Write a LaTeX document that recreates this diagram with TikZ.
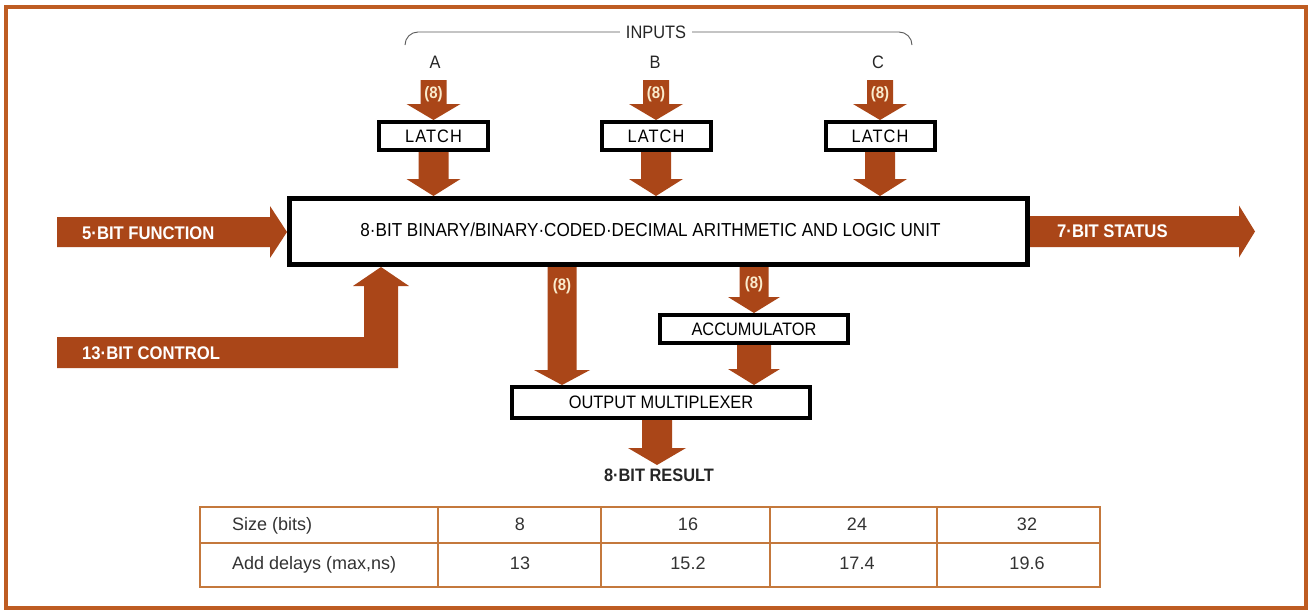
\documentclass[tikz,border=0pt]{standalone}
\usepackage{fontspec}
\setsansfont[FakeStretch=0.91]{Liberation Sans}
\newfontfamily\tabfont{Liberation Sans}
\usetikzlibrary{calc}
\definecolor{arrowc}{RGB}{170,70,24}
\definecolor{framec}{RGB}{190,92,34}
\definecolor{cream}{RGB}{250,236,205}
\definecolor{tabline}{RGB}{196,120,60}
\definecolor{bracec}{RGB}{90,90,90}

% vertical block arrow: from #1 down to the level of #2, half shaft #3, half head #4, head length #5
\newcommand\downarr[5]{\fill[arrowc] let \p1=(#1), \p2=(#2) in
  (\x1-#3,\y1) -- (\x1+#3,\y1) -- (\x1+#3,\y2+#5) -- (\x1+#4,\y2+#5) -- (\x1,\y2)
  -- (\x1-#4,\y2+#5) -- (\x1-#3,\y2+#5) -- cycle;}
% horizontal block arrow: from #1 right to the x of #2
\newcommand\rightarr[5]{\fill[arrowc] let \p1=(#1), \p2=(#2) in
  (\x1,\y1+#3) -- (\x2-#5,\y1+#3) -- (\x2-#5,\y1+#4) -- (\x2,\y1)
  -- (\x2-#5,\y1-#4) -- (\x2-#5,\y1-#3) -- (\x1,\y1-#3) -- cycle;}

\tikzset{
  box/.style={draw=black, fill=white, line width=4pt, inner sep=0pt,
    font=\sffamily\fontsize{18}{20}\selectfont},
  lbl/.style={font=\sffamily\fontsize{18}{20}\selectfont, text=black!85, inner sep=0pt},
  wlbl/.style={font=\sffamily\bfseries\fontsize{18.3}{20}\selectfont, text=white, inner sep=0pt, anchor=west},
  eight/.style={font=\sffamily\bfseries\fontsize{16.5}{18}\selectfont, text=cream, inner sep=0pt},
  tab/.style={font=\tabfont\fontsize{18}{20}\selectfont, text=black!80, inner sep=0pt},
}

\begin{document}
\begin{tikzpicture}[x=1pt,y=-1pt]
\useasboundingbox (0,0) rectangle (1310,611);
\fill[white] (0,0) rectangle (1310,611);
\draw[framec, line width=4.5pt] (6,7) rectangle (1306,608);

% inputs brace
\node[lbl] (inputs) at (656,32) {INPUTS};
\draw[bracec, line width=0.9pt] (405,45) to[out=90,in=180] (418,32) -- ([xshift=-6pt]inputs.west);
\draw[bracec, line width=0.9pt] ([xshift=6pt]inputs.east) -- (899,32) to[out=0,in=90] (912,45);
\node[lbl] (la) at (435,62) {A};
\node[lbl] (lb) at (655,62) {B};
\node[lbl] (lc) at (878,62) {C};

% boxes
\node[box, minimum width=109pt, minimum height=28pt] (latchA) at (433.5,136) {\addfontfeature{LetterSpace=6}LATCH};
\node[box, minimum width=109pt, minimum height=28pt] (latchB) at (656,136) {\addfontfeature{LetterSpace=6}LATCH};
\node[box, minimum width=109pt, minimum height=28pt] (latchC) at (880,136) {\addfontfeature{LetterSpace=6}LATCH};
\node[box, line width=5pt, minimum width=738pt, minimum height=66pt,
  font=\sffamily\fontsize{18.8}{20}\selectfont] (alu) at (658.5,231.5)
  {\raisebox{3pt}{8·BIT BINARY/BINARY·CODED·DECIMAL ARITHMETIC AND LOGIC UNIT}\hspace*{16pt}};
\node[box, minimum width=188pt, minimum height=28pt] (acc) at (754,329) {ACCUMULATOR};
\node[box, minimum width=298pt, minimum height=31pt] (mux) at (661,402.5) {OUTPUT MULTIPLEXER};

% input arrows
\coordinate (ina) at (latchA.north |- 0,80);
\coordinate (inb) at (latchB.north |- 0,80);
\coordinate (inc) at (latchC.north |- 0,80);
\downarr{ina}{latchA.north}{13pt}{27pt}{16pt}
\downarr{inb}{latchB.north}{13pt}{27pt}{16pt}
\downarr{inc}{latchC.north}{13pt}{27pt}{16pt}
\node[eight] (ea) at (latchA.north |- 0,94) {(8)};
\node[eight] (eb) at (latchB.north |- 0,94) {(8)};
\node[eight] (ec) at (latchC.north |- 0,94) {(8)};

% latch to ALU
\downarr{latchA.south}{alu.north}{15pt}{27pt}{17pt}
\downarr{latchB.south}{alu.north}{15pt}{27pt}{17pt}
\downarr{latchC.south}{alu.north}{15pt}{27pt}{17pt}

% function and status
\coordinate (fn) at (57,232);
\rightarr{fn}{alu.west}{15pt}{26pt}{17pt}
\node[wlbl] (fnl) at (82,233) {5·BIT FUNCTION};
\coordinate (st) at (1255,231.5);
\rightarr{alu.east |- st}{st}{15.5pt}{26pt}{16pt}
\node[wlbl] (stl) at (1057,231) {7·BIT STATUS};

% control L-shaped arrow
\coordinate (ctl) at (57,352.5);
\coordinate (ctlturn) at (381,352.5);
\fill[arrowc] let \p1=(ctl), \p2=(ctlturn), \p3=(ctlturn |- alu.south) in
  (\x1,\y1+15.5pt) -- (\x2-17pt,\y1+15.5pt) -- (\x2-17pt,\y3-19pt) -- (\x2-28pt,\y3-19pt)
  -- (\x2,\y3) -- (\x2+28pt,\y3-19pt) -- (\x2+17pt,\y3-19pt) -- (\x2+17pt,\y1-15.5pt)
  -- (\x1,\y1-15.5pt) -- cycle;
\node[wlbl] (ctll) at (82,353) {13·BIT CONTROL};

% ALU to mux and accumulator
\coordinate (o1) at (562,0);
\downarr{o1 |- alu.south}{mux.north}{14.5pt}{28pt}{15pt}
\node[eight] (e1) at (562,286) {(8)};
\downarr{acc.north |- alu.south}{acc.north}{14.5pt}{26pt}{16pt}
\node[eight] (e2) at (754,284) {(8)};
\downarr{acc.south}{mux.north}{17pt}{26pt}{16pt}

% result
\coordinate (res) at (657,465);
\downarr{mux.south -| res}{res}{15pt}{29pt}{17pt}
\node[lbl, font=\sffamily\bfseries\fontsize{18}{20}\selectfont] (resl) at (659,475.5) {8·BIT RESULT};

% table
\draw[tabline, line width=1.2pt] (200,543) -- (1100,543);
\foreach \xx in {438,601,770,937} \draw[tabline, line width=1.2pt] (\xx,507) -- (\xx,587);
\draw[tabline, line width=2pt] (200,507) rectangle (1100,587);
\node[tab, anchor=base west] (t1) at (232,530.5) {Size (bits)};
\node[tab, anchor=base west] (t2) at (232,569.5) {Add delays (max,ns)};
\node[tab, anchor=base] (t3) at (520,530.5) {8};
\node[tab, anchor=base] (t4) at (688,530.5) {16};
\node[tab, anchor=base] (t5) at (857,530.5) {24};
\node[tab, anchor=base] (t6) at (1027,530.5) {32};
\node[tab, anchor=base] (t7) at (520,569.5) {13};
\node[tab, anchor=base] (t8) at (688,569.5) {15.2};
\node[tab, anchor=base] (t9) at (857,569.5) {17.4};
\node[tab, anchor=base] (t10) at (1027,569.5) {19.6};
\end{tikzpicture}
\end{document}
